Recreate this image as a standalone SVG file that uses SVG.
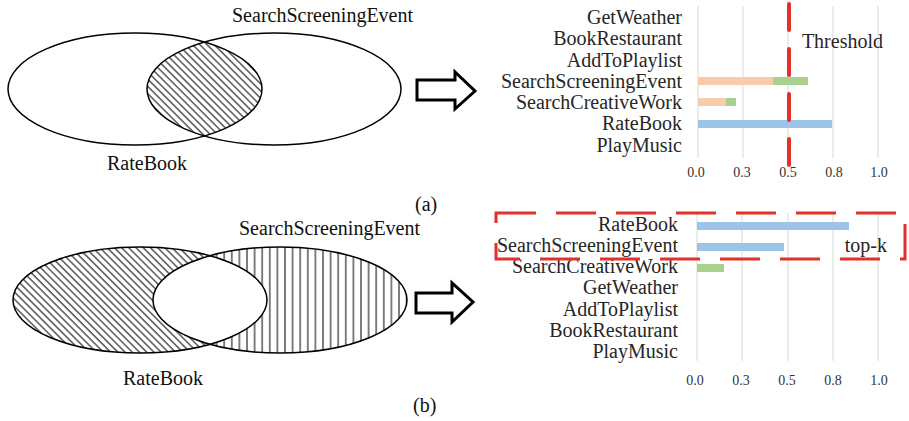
<svg xmlns="http://www.w3.org/2000/svg" width="909" height="421" viewBox="0 0 909 421">
  <style>
    .venn { fill: none; stroke: #000; stroke-width: 1.5; }
    .lbl { font-family: "Liberation Serif", "Times New Roman", serif; font-size: 20px; fill: #111; }
    .row { font-family: "Liberation Serif", "Times New Roman", serif; font-size: 20px; fill: #262626; text-anchor: end; }
    .tick { font-family: "Liberation Serif", "Times New Roman", serif; font-size: 14px; fill: #333; text-anchor: middle; }
    .grid { stroke: #d9d9d9; stroke-width: 1; }
    .arrow { fill: #fff; stroke: #000; stroke-width: 3; stroke-linejoin: miter; }
    .orange { fill: #f8cbad; }
    .green { fill: #a9d18e; }
    .blue { fill: #9dc3e6; }
    .reddash { fill: none; stroke: #e3302a; }
  </style>
  <defs>
    <pattern id="hatchDiag" patternUnits="userSpaceOnUse" width="10" height="5.1" patternTransform="rotate(45)">
      <line x1="0" y1="2.5" x2="10" y2="2.5" stroke="#000" stroke-width="1"/>
    </pattern>
    <pattern id="hatchVert" patternUnits="userSpaceOnUse" width="7.6" height="10">
      <line x1="3.8" y1="0" x2="3.8" y2="10" stroke="#000" stroke-width="1"/>
    </pattern>
    <clipPath id="clipRightA">
      <ellipse cx="274" cy="89" rx="127" ry="56"/>
    </clipPath>
    <clipPath id="clipRightB">
      <ellipse cx="280" cy="300" rx="127" ry="53"/>
    </clipPath>
  </defs>

  <!-- (a) overlap of RateBook and SearchScreeningEvent -->
  <g id="venn-a">
    <ellipse cx="135" cy="89" rx="127" ry="56" fill="url(#hatchDiag)" clip-path="url(#clipRightA)"/>
    <ellipse class="venn" cx="135" cy="89" rx="127" ry="56"/>
    <ellipse class="venn" cx="274" cy="89" rx="127" ry="56"/>
    <text class="lbl" x="232" y="22">SearchScreeningEvent</text>
    <text class="lbl" x="107" y="170">RateBook</text>
  </g>
  <text id="caption-a" class="lbl" x="415" y="211">(a)</text>

  <!-- (b) symmetric difference of RateBook and SearchScreeningEvent -->
  <g id="venn-b">
    <ellipse cx="140" cy="300" rx="127" ry="53" fill="url(#hatchDiag)"/>
    <ellipse cx="280" cy="300" rx="127" ry="53" fill="url(#hatchVert)"/>
    <ellipse cx="140" cy="300" rx="127" ry="53" fill="#fff" clip-path="url(#clipRightB)"/>
    <ellipse class="venn" cx="140" cy="300" rx="127" ry="53" stroke-width="2"/>
    <ellipse class="venn" cx="280" cy="300" rx="127" ry="53"/>
    <text class="lbl" x="239" y="235">SearchScreeningEvent</text>
    <text class="lbl" x="123" y="385">RateBook</text>
  </g>
  <text id="caption-b" class="lbl" x="413" y="412">(b)</text>

  <!-- block arrows -->
  <g id="connectors">
    <polygon class="arrow" points="417,80 455,80 455,72 475,91 455,109 455,100 417,100"/>
    <polygon class="arrow" points="416,293 452,293 452,283 473,302 452,322 452,313 416,313"/>
  </g>

  <!-- (a) chart with threshold -->
  <g id="chart-a">
    <g class="grid">
      <line x1="698" y1="6" x2="698" y2="158"/>
      <line x1="743" y1="6" x2="743" y2="158"/>
      <line x1="788" y1="6" x2="788" y2="158"/>
      <line x1="833" y1="6" x2="833" y2="158"/>
      <line x1="878" y1="6" x2="878" y2="158"/>
    </g>
    <rect class="orange" x="698" y="77" width="75" height="8"/>
    <rect class="green" x="773" y="77" width="35" height="8"/>
    <rect class="orange" x="698" y="98" width="28" height="8"/>
    <rect class="green" x="726" y="98" width="10" height="8"/>
    <rect class="blue" x="698" y="120" width="134" height="8"/>
    <text class="row" x="682" y="24">GetWeather</text>
    <text class="row" x="682" y="45">BookRestaurant</text>
    <text class="row" x="682" y="67">AddToPlaylist</text>
    <text class="row" x="682" y="88">SearchScreeningEvent</text>
    <text class="row" x="682" y="109">SearchCreativeWork</text>
    <text class="row" x="682" y="130">RateBook</text>
    <text class="row" x="682" y="152">PlayMusic</text>
    <text class="tick" x="696" y="177">0.0</text>
    <text class="tick" x="742" y="177">0.3</text>
    <text class="tick" x="788" y="177">0.5</text>
    <text class="tick" x="834" y="177">0.8</text>
    <text class="tick" x="879" y="177">1.0</text>
    <line class="reddash" x1="789" y1="4" x2="789" y2="166" stroke-width="4" stroke-linecap="round" stroke-dasharray="26 19"/>
    <text class="row" x="883" y="48">Threshold</text>
  </g>

  <!-- (b) chart with top-k selection -->
  <g id="chart-b">
    <g class="grid">
      <line x1="697" y1="213" x2="697" y2="361"/>
      <line x1="742" y1="213" x2="742" y2="361"/>
      <line x1="788" y1="213" x2="788" y2="361"/>
      <line x1="833" y1="213" x2="833" y2="361"/>
      <line x1="878" y1="213" x2="878" y2="361"/>
    </g>
    <rect class="blue" x="697" y="222" width="152" height="8"/>
    <rect class="blue" x="697" y="243" width="87" height="8"/>
    <rect class="green" x="697" y="264" width="27" height="8"/>
    <text class="row" x="678" y="231">RateBook</text>
    <text class="row" x="678" y="252">SearchScreeningEvent</text>
    <text class="row" x="678" y="273">SearchCreativeWork</text>
    <text class="row" x="678" y="294">GetWeather</text>
    <text class="row" x="678" y="316">AddToPlaylist</text>
    <text class="row" x="678" y="337">BookRestaurant</text>
    <text class="row" x="678" y="358">PlayMusic</text>
    <text class="tick" x="695" y="385">0.0</text>
    <text class="tick" x="741" y="385">0.3</text>
    <text class="tick" x="787" y="385">0.5</text>
    <text class="tick" x="833" y="385">0.8</text>
    <text class="tick" x="879" y="385">1.0</text>
    <rect class="reddash" x="496" y="213" width="409" height="46" stroke-width="3" stroke-dasharray="40 20"/>
    <text class="row" x="887" y="252">top-k</text>
  </g>
</svg>
